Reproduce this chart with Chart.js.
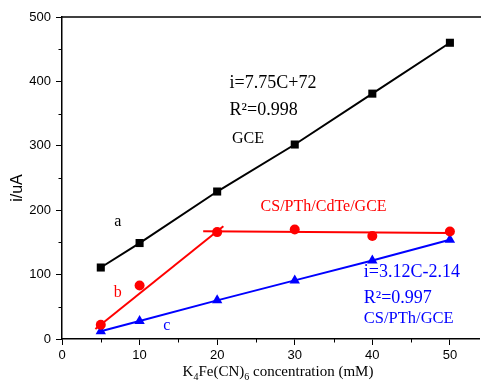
<!DOCTYPE html>
<html><head><meta charset="utf-8">
<script src="https://cdn.jsdelivr.net/npm/chart.js@4"></script>
<style>html,body{margin:0;padding:0;background:#fff;overflow:hidden}#wrap{width:485px;height:383px;position:relative}</style>
</head><body><div id="wrap"><canvas id="c" width="485" height="383"></canvas></div>
<script>
// ---- data ----
const concentrations = [5, 10, 20, 30, 40, 50];
const gceCurrent  = [111, 149, 229, 302, 381, 460];   // a, black squares
const cdteCurrent = [22, 83, 166, 170, 160, 167];     // b, red circles
const pthCurrent  = [12, 28, 60, 91, 122, 154];       // c, blue triangles
const cdteFitRiseX = [4.3, 20.8];
const cdteFitRiseY = [15.5, 175];
const cdteFitFlatX = [18.2, 50];
const cdteFitFlatY = [167.5, 164.5];
const xTicks = [0, 10, 20, 30, 40, 50];
const yTicks = [0, 100, 200, 300, 400, 500];
const xMinorTicks = [5, 15, 25, 35, 45];
const yMinorTicks = [50, 150, 250, 350, 450];
const xTitleParts = [["K",""],["4","sub"],["Fe(CN)",""],["6","sub"],[" concentration (mM)",""]];
const yTitle = "i/uA";
const annotations = [
  {text:"a", x:7.2, y:182, color:"#000", size:16, align:"center"},
  {text:"b", x:7.2, y:71.5, color:"#ff0000", size:16, align:"center"},
  {text:"c", x:13.5, y:20, color:"#0000ff", size:16, align:"center"},
  {text:"i=7.75C+72", x:21.6, y:390, color:"#000", size:18, align:"left", base:true},
  {text:"R\u00B2=0.998", x:21.6, y:348, color:"#000", size:18, align:"left", base:true},
  {text:"GCE", x:21.9, y:305, color:"#000", size:16, align:"left", base:true},
  {text:"CS/PTh/CdTe/GCE", x:25.6, y:199, color:"#ff0000", size:16, align:"left", base:true},
  {text:"i=3.12C-2.14", x:38.9, y:97, color:"#0000ff", size:18, align:"left", base:true},
  {text:"R\u00B2=0.997", x:38.9, y:56.5, color:"#0000ff", size:18, align:"left", base:true},
  {text:"CS/PTh/GCE", x:38.9, y:25, color:"#0000ff", size:16.5, align:"left", base:true}
];

const pts = (xs, ys) => xs.map((x, i) => ({x, y: ys[i]}));

const decor = {
  id: 'decor',
  afterDraw(chart) {
    const ctx = chart.ctx, a = chart.chartArea;
    const xs = chart.scales.x, ys = chart.scales.y;
    ctx.save();
    ctx.strokeStyle = '#000';
    ctx.lineWidth = 1.5;
    // top frame
    ctx.beginPath(); ctx.moveTo(a.left, a.top); ctx.lineTo(a.right + 2, a.top); ctx.stroke();
    // minor ticks
    ctx.lineWidth = 1;
    ctx.beginPath();
    yMinorTicks.forEach(v => { const p = Math.round(ys.getPixelForValue(v)) + 0.5; ctx.moveTo(a.left - 3.5, p); ctx.lineTo(a.left, p); });
    xMinorTicks.forEach(v => { const p = Math.round(xs.getPixelForValue(v)) + 0.5; ctx.moveTo(p, a.bottom); ctx.lineTo(p, a.bottom + 3.5); });
    ctx.stroke();
    // annotations
    annotations.forEach(t => {
      ctx.font = t.size + 'px "Liberation Serif", "Times New Roman", serif';
      ctx.fillStyle = t.color;
      ctx.textAlign = t.align;
      ctx.textBaseline = t.base ? 'alphabetic' : 'middle';
      ctx.fillText(t.text, xs.getPixelForValue(t.x), ys.getPixelForValue(t.y));
    });
    // x title with subscripts
    ctx.fillStyle = '#000';
    ctx.textBaseline = 'alphabetic';
    ctx.textAlign = 'left';
    const big = '15px "Liberation Serif", "Times New Roman", serif';
    const small = '10px "Liberation Serif", "Times New Roman", serif';
    let total = 0;
    xTitleParts.forEach(([s, k]) => { ctx.font = k ? small : big; total += ctx.measureText(s).width; });
    let cx = 278 - total / 2;
    const baseY = 376;
    xTitleParts.forEach(([s, k]) => {
      ctx.font = k ? small : big;
      ctx.fillText(s, cx, k ? baseY + 4 : baseY);
      cx += ctx.measureText(s).width;
    });
    // y title
    ctx.translate(18, 188);
    ctx.rotate(-Math.PI / 2);
    ctx.font = '16px "Liberation Sans", Arial, sans-serif';
    ctx.textAlign = 'center';
    ctx.textBaseline = 'middle';
    ctx.fillText(yTitle, 0, 0);
    ctx.restore();
  }
};

const tickFont = {family: '"Liberation Sans", Arial, sans-serif', size: 13};

new Chart(document.getElementById('c'), {
  type: 'scatter',
  data: {
    datasets: [
      {data: pts(concentrations, gceCurrent), showLine: true, borderColor: '#000', backgroundColor: '#000',
       borderWidth: 2, pointStyle: 'rect', pointRadius: 5.7, pointBorderWidth: 0},
      {data: pts(cdteFitRiseX, cdteFitRiseY), showLine: true, borderColor: '#ff0000', borderWidth: 2, pointRadius: 0},
      {data: pts(cdteFitFlatX, cdteFitFlatY), showLine: true, borderColor: '#ff0000', borderWidth: 2, pointRadius: 0},
      {data: pts(concentrations, cdteCurrent), showLine: false, borderColor: '#ff0000', backgroundColor: '#ff0000',
       pointStyle: 'circle', pointRadius: 5, pointBorderWidth: 0},
      {data: pts(concentrations, pthCurrent), showLine: true, borderColor: '#0000ff', backgroundColor: '#0000ff',
       borderWidth: 2, pointStyle: 'triangle', pointRadius: 6, pointBorderWidth: 0}
    ]
  },
  options: {
    responsive: false,
    animation: false,
    devicePixelRatio: 1,
    layout: {padding: {top: 17, left: 0, right: 0, bottom: 0}},
    plugins: {legend: {display: false}, tooltip: {enabled: false}},
    scales: {
      x: {
        type: 'linear', min: 0, max: 53.75,
        afterBuildTicks: s => { s.ticks = xTicks.map(v => ({value: v})); },
        afterFit: s => { s.height = 44; },
        grid: {display: true, drawOnChartArea: false, drawTicks: true, tickLength: 6, color: '#000', lineWidth: 1},
        border: {display: true, color: '#000', width: 1.5},
        ticks: {color: '#000', font: tickFont, padding: 3, maxRotation: 0}
      },
      y: {
        type: 'linear', min: 0, max: 500,
        afterBuildTicks: s => { s.ticks = yTicks.map(v => ({value: v})); },
        afterFit: s => { s.width = 62; },
        grid: {display: true, drawOnChartArea: false, drawTicks: true, tickLength: 6, color: '#000', lineWidth: 1},
        border: {display: true, color: '#000', width: 1.5},
        ticks: {color: '#000', font: tickFont, padding: 5}
      }
    }
  },
  plugins: [decor]
});
</script>
</body></html>
